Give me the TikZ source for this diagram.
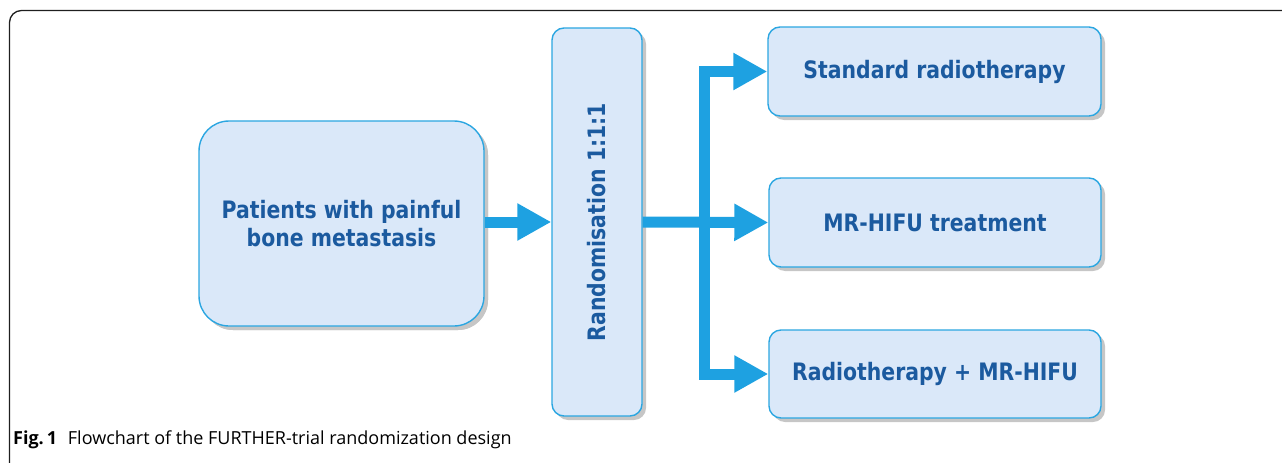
\documentclass[tikz,border=0pt]{standalone}
\usepackage{fontspec}
\setmainfont{DejaVu Sans}
\newfontfamily\boxfont[FakeStretch=0.85]{DejaVu Sans Bold}
\newfontfamily\capfont{Open Sans}
\usetikzlibrary{arrows.meta,shadows,calc}
\definecolor{boxfill}{HTML}{DAE8F9}
\definecolor{boxline}{HTML}{2BA6E1}
\definecolor{arrowc}{HTML}{1EA1E1}
\definecolor{textc}{HTML}{1B5A9F}
\definecolor{shadowc}{HTML}{C6C6C6}
\tikzset{
  flowbox/.style={draw=boxline, line width=1.4pt, fill=boxfill, rounded corners=12pt,
    general shadow={shadow xshift=4pt, shadow yshift=-4pt, fill=shadowc, rounded corners=12pt},
    text=textc, font=\boxfont\fontsize{24}{28}\selectfont, align=center, inner sep=0pt},
  arr/.style={draw=arrowc, line width=11pt, -{Triangle[length=34pt,width=35pt]}},
  shaft/.style={draw=arrowc, line width=11pt, line cap=rect},
  frame/.style={draw=black!88, line width=1.3pt, rounded corners=12pt}
}
\begin{document}
\begin{tikzpicture}[x=1pt,y=-1pt]
\useasboundingbox (0,0) rectangle (1282,463);
\begin{scope}
\clip (0,0) rectangle (1282,463);
\draw[frame] (9.5,10.5) rectangle (1320,500);
\end{scope}
\node[flowbox, rounded corners=30pt, general shadow={shadow xshift=4pt, shadow yshift=-4pt, fill=shadowc, rounded corners=30pt},
  minimum width=285pt, minimum height=205pt] (pat) at (341.5,223.5) {Patients with painful\\bone metastasis};
\node[flowbox, minimum width=90pt, minimum height=388pt] (rand) at (597,222) {\rotatebox{90}{Randomisation 1:1:1}};
\node[flowbox, minimum width=333pt, minimum height=89pt] (std) at (934.5,71.5) {Standard radiotherapy};
\node[flowbox, minimum width=332pt, minimum height=89pt] (mr) at (935,222.5) {MR-HIFU treatment};
\node[flowbox, minimum width=332pt, minimum height=88pt] (comb) at (935,374) {Radiotherapy + MR-HIFU};
\coordinate (j) at (704.5,222);
\draw[arr] (pat.east|-rand.west) -- (rand.west);
\draw[shaft] (j|-std.west) -- (j|-comb.west);
\draw[arr] (j|-std.west) -- (std.west);
\draw[arr] (rand.east) -- (mr.west);
\draw[arr] (j|-comb.west) -- (comb.west);
\node[anchor=base west, inner sep=0pt, font=\capfont\fontsize{18}{20}\selectfont] (cap) at (13,444)
  {\textbf{Fig.\,1}\hspace{0.6em}Flowchart of the FURTHER-trial randomization design};
\end{tikzpicture}
\end{document}
